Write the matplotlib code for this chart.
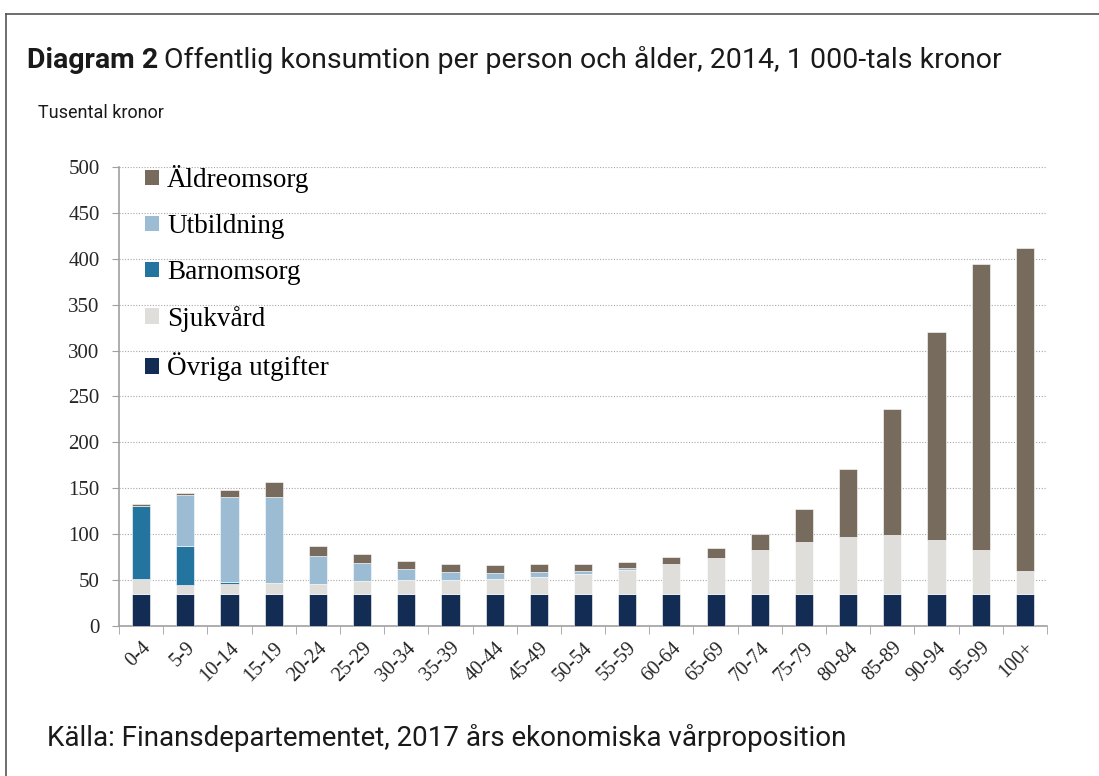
import numpy as np
import matplotlib
matplotlib.use("Agg")
import matplotlib.pyplot as plt
from matplotlib import font_manager
from matplotlib.patches import Patch
from matplotlib.lines import Line2D

# Offentlig konsumtion per person och ålder, 2014 (tusental kronor)
alder = ["0-4", "5-9", "10-14", "15-19", "20-24", "25-29", "30-34", "35-39",
         "40-44", "45-49", "50-54", "55-59", "60-64", "65-69", "70-74",
         "75-79", "80-84", "85-89", "90-94", "95-99", "100+"]
ovriga = [34.5] * 21
sjukvard = [16.5, 10.5, 11, 12.5, 11.5, 14, 15.5, 15.5, 16.5, 18.5, 22,
            26.5, 32.5, 40, 48.5, 57, 62, 64.5, 59, 48, 25]
barnomsorg = [80, 42, 2, 0, 0, 0, 0, 0, 0, 0, 0,
              0, 0, 0, 0, 0, 0, 0, 0, 0, 0]
utbildning = [0, 55.5, 92.5, 94, 30, 20.5, 12, 8.5, 6.5, 5.5, 3.5,
              2, 1, 0, 0, 0, 0, 0, 0, 0, 0]
aldreomsorg = [1.5, 2.5, 8.5, 15.5, 11, 9, 8.5, 8.5, 8.5, 8.5, 7.5,
               6.5, 7, 10.5, 17, 35.5, 74.5, 137, 226.5, 311.5, 352]

namn = ["Övriga utgifter", "Sjukvård", "Barnomsorg", "Utbildning", "Äldreomsorg"]
farger = ["#132c54", "#e0dedb", "#2474a0", "#9bbcd2", "#776b5e"]

installed = {f.name for f in font_manager.fontManager.ttflist}
sans = "Liberation Sans Narrow" if "Liberation Sans Narrow" in installed else "Roboto"
serif = "Liberation Serif"

fig = plt.figure(figsize=(10.99, 7.76), dpi=100)
ax = fig.add_axes([0.1083, 0.1933, 0.8444, 0.5915])

x = np.arange(len(alder))
bottom = np.zeros(len(alder))
for serie, farg in zip([ovriga, sjukvard, barnomsorg, utbildning, aldreomsorg], farger):
    ax.bar(x, serie, 0.41, bottom=bottom, color=farg, edgecolor="white", linewidth=0.4, zorder=3)
    bottom += np.array(serie)

ax.set_xlim(-0.5, len(alder) - 0.5)
ax.set_ylim(0, 500)
ax.set_yticks(np.arange(0, 501, 50))
ax.yaxis.grid(True, linestyle=(0, (1, 1.5)), color="#a8a8a8", linewidth=0.8, zorder=0)

ax.set_xticks(x)
ax.set_xticklabels(alder, rotation=45, ha="right", rotation_mode="anchor",
                   fontsize=14.5, family=serif, color="#262626")
ax.set_xticks(np.arange(-0.5, len(alder)), minor=True)
ax.tick_params(axis="x", which="major", length=0, pad=9)
ax.tick_params(axis="x", which="minor", length=6, color="#a0a0a0", direction="out")
ax.tick_params(axis="y", length=5, color="#a0a0a0", pad=9, labelsize=15, labelcolor="#262626")
for lab in ax.get_yticklabels():
    lab.set_family(serif)

for side in ["top", "right"]:
    ax.spines[side].set_visible(False)
for side in ["left", "bottom"]:
    ax.spines[side].set_color("#a0a0a0")
    ax.spines[side].set_linewidth(1.2)

handles = [Patch(facecolor=c) for c in farger[::-1]]
ax.legend(handles, namn[::-1], loc="upper left", bbox_to_anchor=(0.008, 1.045),
          frameon=False, prop={"family": serif, "size": 19.5},
          handlelength=0.5, handleheight=0.5, handletextpad=0.3,
          labelspacing=0.77, borderaxespad=0.3)

# titel: fet del + vanlig del
renderer = fig.canvas.get_renderer()
t1 = fig.text(27 / 1099, 1 - 60 / 776, "Diagram 2", fontsize=20.5, family=sans,
              weight="bold", va="center", color="#1a1a1a")
bb = t1.get_window_extent(renderer)
fig.text(bb.x1 / 1099 + 0.005, 1 - 60 / 776,
         "Offentlig konsumtion per person och ålder, 2014, 1 000-tals kronor",
         fontsize=20.5, family=sans, va="center", color="#1a1a1a")
fig.text(38 / 1099, 1 - 113 / 776, "Tusental kronor", fontsize=13, family=sans,
         va="center", color="#1a1a1a")
fig.text(47 / 1099, 1 - 738 / 776,
         "Källa: Finansdepartementet, 2017 års ekonomiska vårproposition",
         fontsize=20, family=sans, va="center", color="#1a1a1a")

# ram
fig.add_artist(Line2D([6 / 1099, 1], [1 - 14 / 776, 1 - 14 / 776],
                      transform=fig.transFigure, color="#555555", linewidth=1.2))
fig.add_artist(Line2D([6 / 1099, 6 / 1099], [0, 1 - 14 / 776],
                      transform=fig.transFigure, color="#555555", linewidth=1.2))

fig.savefig("out.png", dpi=100)
